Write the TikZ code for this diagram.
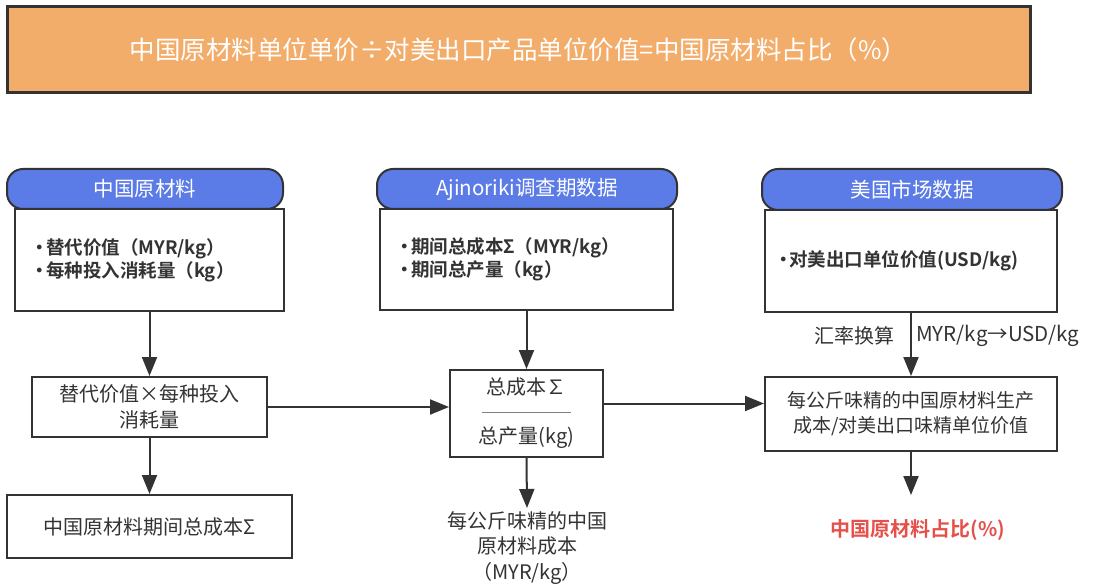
\documentclass[tikz,border=0pt]{standalone}
\usepackage{fontspec}
\setmainfont{Noto Sans CJK SC}[BoldFont={Noto Sans CJK SC Bold}]
\usetikzlibrary{arrows.meta,positioning}
\definecolor{orangefill}{HTML}{F2AD6B}
\definecolor{headblue}{HTML}{5B7BE6}
\definecolor{linegray}{HTML}{333333}
\definecolor{textgray}{HTML}{333333}
\definecolor{redtext}{HTML}{E5504A}
\newcommand{\bul}[1][13pt]{\makebox[#1][c]{•}}
\tikzset{
  box/.style={draw=linegray, line width=2pt, fill=white, text=textgray, align=center, inner sep=0pt, font=\fontsize{20}{26}\selectfont},
  head/.style={draw=linegray, line width=2pt, fill=headblue, rounded corners=16pt, text=white, inner sep=0pt, font=\fontsize{20.5}{24}\selectfont},
  bullets/.style={box, align=left, inner xsep=18pt, font=\bfseries\fontsize{18.5}{23}\selectfont},
  plain/.style={text=textgray, align=center, font=\fontsize{20}{25.5}\selectfont},
  arr/.style={-{Triangle[length=19pt,width=15pt]}, draw=linegray, line width=2pt},
}
\begin{document}
\begin{tikzpicture}[x=1pt,y=-1pt]
\useasboundingbox (0,0) rectangle (1097,588);
\node[draw=linegray, line width=3pt, fill=orangefill, minimum width=1023, minimum height=86, inner sep=0pt, text=white, font=\fontsize{25.5}{30}\selectfont] (title) at (518.5,50) {中国原材料单位单价÷对美出口产品单位价值=中国原材料占比（\%）};

\node[head, minimum width=276, minimum height=40] (h1) at (145,189) {中国原材料};
\node[bullets, text width=233, minimum height=102] (b1) at (149.5,260) {\bul 替代价值（MYR/kg）\\\bul 每种投入消耗量（kg）};
\node[head, minimum width=300, minimum height=40] (h2) at (527,189) {Ajinoriki调查期数据};
\node[bullets, text width=257, minimum height=101] (b2) at (526.5,259.5) {\bul 期间总成本Σ（MYR/kg）\\\bul 期间总产量（kg）};
\node[head, minimum width=300, minimum height=41] (h3) at (912,189.5) {美国市场数据};
\node[bullets, inner xsep=14pt, text width=264, minimum height=102] (b3) at (911,261) {\bul[10pt]对美出口单位价值(USD/kg)};

\node[box, minimum width=235, minimum height=60] (m1) at (149.5,407) {替代价值×每种投入\\消耗量};
\node[box, minimum width=285, minimum height=63] (s1) at (149.5,526.5) {中国原材料期间总成本Σ};
\node[box, minimum width=153, minimum height=87, font=\fontsize{20}{24.5}\selectfont] (m2) at (526.5,413.5) {总成本∑\\\textcolor{gray}{\rule[6pt]{89pt}{1pt}}\\总产量(kg)};
\node[plain] (r2) at (527,548) {每公斤味精的中国\\原材料成本\\（MYR/kg）};
\node[box, minimum width=292, minimum height=74, font=\fontsize{19}{25}\selectfont] (m3) at (911,414) {每公斤味精的中国原材料生产\\成本/对美出口味精单位价值};
\node[plain, text=redtext, font=\bfseries\fontsize{20}{25}\selectfont] (r3) at (918,530) {中国原材料占比(\%)};
\coordinate (e3) at (911,495);

\draw[arr] (b1.south) -- (m1.north);
\draw[arr] (m1.south) -- (s1.north);
\draw[arr] (m1.east) -- (m1.east -| m2.west);
\draw[arr] (b2.south) -- (m2.north);
\draw[arr] (m2.south) -- (r2.north);
\draw[arr] ([yshift=10pt]m2.east) -- ([yshift=10pt]m2.east -| m3.west);
\draw[arr] (b3.south) -- node[plain, pos=.36, left=12pt] {汇率换算} node[plain, pos=.36, right=1pt, font=\fontsize{20.5}{25}\selectfont] {MYR/kg→USD/kg} (m3.north);
\draw[arr] (m3.south) -- (e3);
\end{tikzpicture}
\end{document}
